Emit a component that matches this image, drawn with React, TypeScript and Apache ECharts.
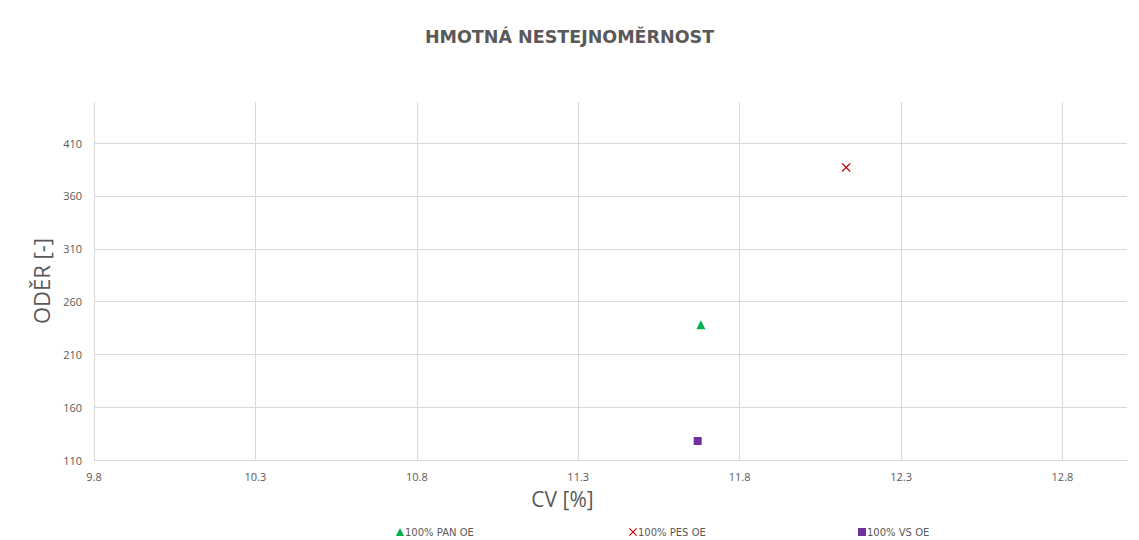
import React, { useEffect, useRef } from "react";
import * as echarts from "echarts";

const seriesNames = ["100% PAN OE", "100% PES OE", "100% VS OE"];
const cvValues = [11.68, 12.13, 11.67];
const oderValues = [238, 387, 128];
const seriesColors = ["#00b050", "#c00000", "#7030a0"];
const legendLefts = [396, 629, 858];

const xMin = 9.8;
const xMax = 13.0;
const xStep = 0.5;
const yMin = 110;
const yMax = 449;
const yStep = 50;

const crossPath =
  "path://M1,0L5,4L9,0L10,1L6,5L10,9L9,10L5,6L1,10L0,9L4,5L0,1Z";
const symbols = ["triangle", crossPath, "rect"];
const symbolSizes = [9, 9, 8];

export default function App() {
  const ref = useRef<HTMLDivElement>(null);
  useEffect(() => {
    if (!ref.current) return;
    const chart = echarts.init(ref.current, undefined, { renderer: "svg" });
    const gray = "#595959";
    const gridColor = "#d9d9d9";
    chart.setOption({
      animation: false,
      backgroundColor: "#ffffff",
      textStyle: { fontFamily: "Open Sans" },
      title: {
        text: "HMOTNÁ NESTEJNOMĚRNOST",
        left: "center",
        top: 23,
        textStyle: {
          fontFamily: "DejaVu Sans",
          fontSize: 17.5,
          fontWeight: 700,
          color: gray,
        },
      },
      legend: seriesNames.map((n, i) => ({
        data: [n],
        left: legendLefts[i],
        top: 527,
        itemWidth: 8,
        itemHeight: 8,
        itemGap: 4,
        padding: 0,
        textStyle: {
          fontSize: 10,
          color: gray,
          fontFamily: "DejaVu Sans",
          padding: [0, 0, 0, -4],
        },
      })),
      grid: { left: 94, right: 12, top: 102, bottom: 80, containLabel: false },
      xAxis: {
        type: "value",
        min: xMin,
        max: xMax,
        interval: xStep,
        name: "CV [%]",
        nameLocation: "middle",
        nameGap: 28,
        nameTextStyle: {
          fontSize: 21,
          color: gray,
          fontFamily: "Open Sans",
          padding: [0, 96, 0, 0],
        },
        axisLine: { show: true, lineStyle: { color: gridColor } },
        axisTick: { show: false },
        axisLabel: {
          color: gray,
          fontSize: 11,
          margin: 11,
          showMaxLabel: false,
          formatter: (v: number) => v.toFixed(1),
        },
        splitLine: { show: true, showMaxLine: false, lineStyle: { color: gridColor } },
      },
      yAxis: {
        type: "value",
        min: yMin,
        max: yMax,
        interval: yStep,
        name: "ODĚR [-]",
        nameLocation: "middle",
        nameGap: 36,
        nameTextStyle: { fontSize: 22, color: gray, fontFamily: "Open Sans" },
        axisLine: { show: false },
        axisTick: { show: false },
        axisLabel: { color: gray, fontSize: 11, margin: 12, showMaxLabel: false },
        splitLine: { show: true, showMaxLine: false, lineStyle: { color: gridColor } },
      },
      series: seriesNames.map((n, i) => ({
        name: n,
        type: "scatter",
        symbol: symbols[i],
        symbolSize: symbolSizes[i],
        itemStyle: { color: seriesColors[i], opacity: 1 },
        data: [[cvValues[i], oderValues[i]]],
      })),
    });
    return () => chart.dispose();
  }, []);
  return (
    <div
      ref={ref}
      style={{ position: "fixed", left: 0, top: 0, width: 1139, height: 540 }}
    />
  );
}
